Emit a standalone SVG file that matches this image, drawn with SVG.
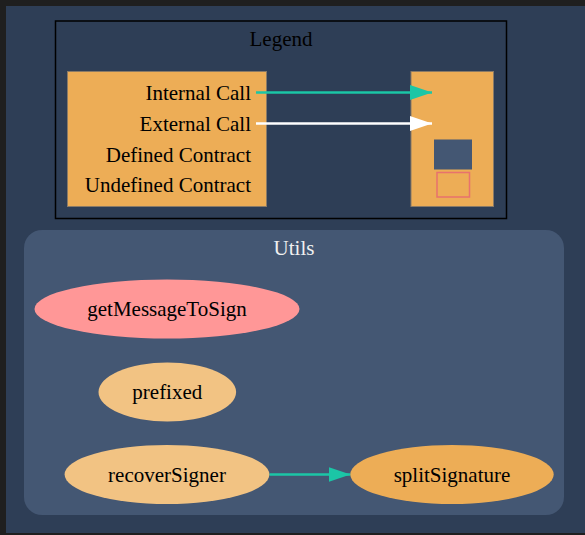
<svg xmlns="http://www.w3.org/2000/svg" width="585" height="535" viewBox="0 0 585 535">
<style>
.t{font-family:'Liberation Serif','DejaVu Serif',serif;font-size:21px;fill:#000}
.title{text-anchor:middle}
.lbl{text-anchor:end}
.node text{text-anchor:middle}
.edge{fill:none;stroke-width:2.7}
</style>
<defs>
<marker id="ahInt" markerWidth="22" markerHeight="15" refX="22" refY="7.5" orient="auto" markerUnits="userSpaceOnUse"><path d="M0,0 L22,7.5 L0,15 Z" fill="#1bc6a6"/></marker>
<marker id="ahExt" markerWidth="22" markerHeight="15" refX="22" refY="7.5" orient="auto" markerUnits="userSpaceOnUse"><path d="M0,0 L22,7.5 L0,15 Z" fill="#ffffff"/></marker>
</defs>
<rect x="0" y="0" width="585" height="535" fill="#1f1f1f"/>
<rect x="6" y="6" width="579" height="527" fill="#2e3e56"/>
<g id="legend" font-family="Liberation Serif, serif" font-size="21">
<rect x="55.5" y="21" width="451" height="197.5" fill="#2e3e56" stroke="#000" stroke-width="1.5"/>
<text class="t title" x="281" y="46">Legend</text>
<g id="key">
<rect x="67.5" y="71.5" width="199" height="135" fill="#edad56" stroke="#8a7a66" stroke-width="1"/>
<text class="t lbl" x="251" y="99.5">Internal Call</text>
<text class="t lbl" x="251" y="130.5">External Call</text>
<text class="t lbl" x="251" y="161.5">Defined Contract</text>
<text class="t lbl" x="251" y="192">Undefined Contract</text>
</g>
<g id="key2">
<rect x="411" y="71.5" width="82.5" height="135" fill="#edad56" stroke="#8a7a66" stroke-width="1"/>
<rect x="434" y="139.5" width="38" height="30" fill="#445773"/>
<rect x="437" y="172.5" width="32.5" height="24.5" fill="none" stroke="#e8726d" stroke-width="1.5"/>
</g>
</g>
<g id="cluster_Utils" font-family="Liberation Serif, serif" font-size="21">
<rect x="24" y="230" width="540" height="285" rx="18" ry="18" fill="#445773"/>
<text class="t title" x="294" y="255" style="fill:#f0f0f0">Utils</text>
</g>
<g id="connectors">
<path class="edge" d="M256,92.5 L432,92.5" stroke="#1bc6a6" marker-end="url(#ahInt)"/>
<path class="edge" d="M256,123.5 L432,123.5" stroke="#ffffff" marker-end="url(#ahExt)"/>
<path class="edge" d="M269.5,474.5 L350.5,474.5" stroke="#1bc6a6" marker-end="url(#ahInt)"/>
</g>
<g id="getMessageToSign" class="node" font-family="Liberation Serif, serif" font-size="21">
<ellipse cx="167" cy="309" rx="132.5" ry="29.5" fill="#ff9797"/>
<text class="t" x="167" y="316">getMessageToSign</text>
</g>
<g id="prefixed" class="node" font-family="Liberation Serif, serif" font-size="21">
<ellipse cx="167.3" cy="392" rx="68.8" ry="29.5" fill="#f2c383"/>
<text class="t" x="167.3" y="399">prefixed</text>
</g>
<g id="recoverSigner" class="node" font-family="Liberation Serif, serif" font-size="21">
<ellipse cx="167" cy="474.5" rx="102.4" ry="29.5" fill="#f2c383"/>
<text class="t" x="167" y="481.5">recoverSigner</text>
</g>
<g id="splitSignature" class="node" font-family="Liberation Serif, serif" font-size="21">
<ellipse cx="452" cy="474.5" rx="101.7" ry="29.5" fill="#edad56"/>
<text class="t" x="452" y="481.5">splitSignature</text>
</g>
</svg>
